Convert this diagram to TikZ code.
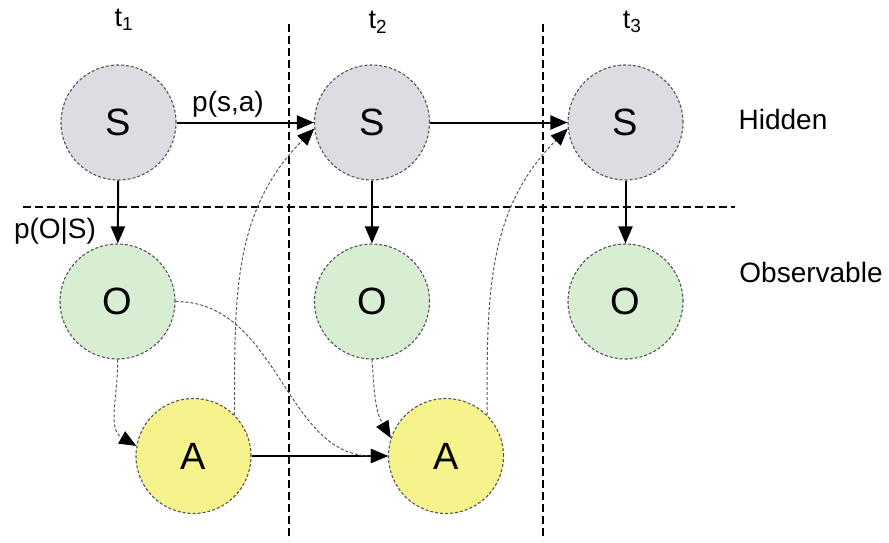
\documentclass[tikz,border=0pt]{standalone}
\usepackage{fontspec}
\setmainfont{Liberation Sans}
\usetikzlibrary{arrows.meta}

\definecolor{hidfill}{HTML}{DCDDE3}
\definecolor{obsfill}{HTML}{D8EED2}
\definecolor{actfill}{HTML}{F7F38C}
\definecolor{rimcol}{HTML}{555555}

\tikzset{
  statenode/.style={circle, minimum size=115pt, inner sep=0pt, draw=rimcol,
    densely dashed, line width=1.1pt, font=\fontsize{38}{44}\selectfont},
  hid/.style={statenode, fill=hidfill},
  obs/.style={statenode, fill=obsfill},
  act/.style={statenode, fill=actfill},
  lbl/.style={font=\fontsize{28}{34}\selectfont, inner sep=0pt},
  tlbl/.style={font=\fontsize{27}{32}\selectfont, inner sep=0pt},
  mainarr/.style={-{Triangle[length=17pt,width=14pt,color=black]}, line width=2pt, draw=black},
  softarr/.style={-{Triangle[length=17pt,width=14pt,color=black]},
    line width=1pt, draw=gray!70!black, densely dashed},
  divider/.style={line width=2pt, black, dash pattern=on 8pt off 4pt},
}

\begin{document}
\begin{tikzpicture}[x=1pt, y=-1pt]
  \useasboundingbox (0,0) rectangle (889,543);
  \fill[white] (0,0) rectangle (889,543);

  % slice boundaries
  \draw[divider] (289,24) -- (289,540);
  \draw[divider] (543,24) -- (543,540);
  \draw[divider] (23,207) -- (735,207);

  % time-slice headings
  \node[tlbl] (t1) at (124,20) {t\textsubscript{1}};
  \node[tlbl] (t2) at (378,22) {t\textsubscript{2}};
  \node[tlbl] (t3) at (632,22) {t\textsubscript{3}};

  % row headings
  \node[lbl] (hidden) at (783,119) {Hidden};
  \node[lbl] (observable) at (811,272) {Observable};

  % hidden states
  \node[hid] (S1) at (118.5,122.5) {S};
  \node[hid] (S2) at (372,122.5) {S};
  \node[hid] (S3) at (625.5,122.5) {S};

  % observations
  \node[obs] (O1) at (117.5,301.5) {O};
  \node[obs] (O2) at (372,301.5) {O};
  \node[obs] (O3) at (625.5,301.5) {O};

  % actions
  \node[act] (A1) at (193.5,456) {A};
  \node[act] (A2) at (446,456) {A};

  % transitions and emissions
  \draw[mainarr] (S1) -- (S2);
  \draw[mainarr] (S2) -- (S3);
  \draw[mainarr] (S1) -- (O1);
  \draw[mainarr] (S2) -- (O2);
  \draw[mainarr] (S3) -- (O3);
  \draw[mainarr] (A1) -- (A2);

  % policy and action influences
  \draw[softarr] (O1.south) to[out=-88, in=150] (A1.170);
  \draw[softarr] (O1.east) to[out=0, in=180] (A2.west);
  \draw[softarr] (O2.south) to[out=-86, in=120] (A2.162);
  \draw[softarr] (A1.45) to[out=90, in=225] (S2.186);
  \draw[softarr] (A2.45) to[out=90, in=225] (S3.186);

  % edge labels
  \node[lbl] (psa) at (228,104) {p(s,a)};
  \node[lbl] (pos) at (55,231) {p(O|S)};
\end{tikzpicture}
\end{document}
